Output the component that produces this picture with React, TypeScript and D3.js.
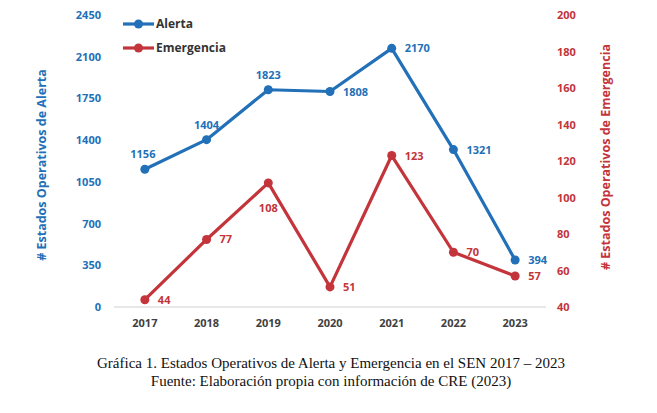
import React, { useRef, useEffect } from 'react';
import * as d3 from 'd3';

const years = ['2017', '2018', '2019', '2020', '2021', '2022', '2023'];
const alerta = [1156, 1404, 1823, 1808, 2170, 1321, 394];
const emergencia = [44, 77, 108, 51, 123, 70, 57];
const leftTicks = [0, 350, 700, 1050, 1400, 1750, 2100, 2450];
const rightTicks = [40, 60, 80, 100, 120, 140, 160, 180, 200];

// where each data label sits relative to its point
const alertaLabelPos = ['above', 'above', 'above', 'right', 'right', 'right', 'right'];
const emergLabelPos = ['right', 'right', 'below', 'right', 'right', 'right', 'right'];

const BLUE = '#2270b8';
const RED = '#c3343b';
const FONT = '"Open Sans", "DejaVu Sans", sans-serif';

export default function App() {
  const svgRef = useRef<SVGSVGElement>(null);

  useEffect(() => {
    if (!svgRef.current) return;
    const W = 657, H = 413;
    const svg = d3.select(svgRef.current);
    svg.selectAll('*').remove();
    svg.attr('width', W).attr('height', H);

    svg.append('rect').attr('width', W).attr('height', H).attr('fill', '#fff');

    const x = d3.scaleBand().domain(years).range([114, 546]);
    const cx = (d: string) => (x(d) || 0) + x.bandwidth() / 2;
    const yL = d3.scaleLinear().domain([0, 2450]).range([307, 15]);
    const yR = d3.scaleLinear().domain([40, 200]).range([307, 15]);

    // baseline
    svg.append('line')
      .attr('x1', 114).attr('x2', 546)
      .attr('y1', yL(0)).attr('y2', yL(0))
      .attr('stroke', '#d0d0d0').attr('stroke-width', 1.2);

    // left axis
    const left = svg.append('g')
      .attr('transform', 'translate(101,0)')
      .call(d3.axisLeft(yL).tickValues(leftTicks).tickFormat(d3.format('d')).tickSize(0).tickPadding(0));
    left.select('.domain').remove();
    left.selectAll('text')
      .attr('fill', BLUE).style('font-size', '11px').style('font-weight', '700')
      .style('font-family', FONT);

    // right axis
    const right = svg.append('g')
      .attr('transform', 'translate(557,0)')
      .call(d3.axisRight(yR).tickValues(rightTicks).tickFormat(d3.format('d')).tickSize(0).tickPadding(0));
    right.select('.domain').remove();
    right.selectAll('text')
      .attr('fill', RED).style('font-size', '11px').style('font-weight', '700')
      .style('font-family', FONT);

    // x axis labels
    const bottom = svg.append('g')
      .attr('transform', `translate(0,${yL(0)})`)
      .call(d3.axisBottom(x).tickSize(0).tickPadding(12));
    bottom.select('.domain').remove();
    bottom.selectAll('text')
      .attr('fill', '#404040').style('font-size', '11px').style('font-weight', '700')
      .style('font-family', FONT);

    // axis titles
    svg.append('text')
      .attr('transform', `translate(46,${165}) rotate(-90)`)
      .attr('text-anchor', 'middle')
      .attr('fill', BLUE).style('font-size', '12.5px').style('font-weight', '700')
      .style('font-family', FONT)
      .text('# Estados Operativos de Alerta');
    svg.append('text')
      .attr('transform', `translate(610,${157}) rotate(-90)`)
      .attr('text-anchor', 'middle')
      .attr('fill', RED).style('font-size', '12.5px').style('font-weight', '700')
      .style('font-family', FONT)
      .text('# Estados Operativos de Emergencia');

    const drawSeries = (vals: number[], y: d3.ScaleLinear<number, number>, color: string, pos: string[]) => {
      const line = d3.line<number>().x((_, i) => cx(years[i])).y(d => y(d));
      svg.append('path').datum(vals)
        .attr('d', line).attr('fill', 'none')
        .attr('stroke', color).attr('stroke-width', 3.2).attr('stroke-linejoin', 'round');
      svg.append('g').selectAll('circle').data(vals).enter().append('circle')
        .attr('cx', (_, i) => cx(years[i])).attr('cy', d => y(d))
        .attr('r', 4.5).attr('fill', color);
      svg.append('g').selectAll('text').data(vals).enter().append('text')
        .attr('x', (_, i) => pos[i] === 'right' ? cx(years[i]) + 13 : cx(years[i]) - (i === 0 ? 2 : 0))
        .attr('y', (d, i) => pos[i] === 'right' ? y(d) + 4 : pos[i] === 'above' ? y(d) - 11 : y(d) + 29)
        .attr('text-anchor', (_, i) => pos[i] === 'right' ? 'start' : 'middle')
        .attr('fill', color).style('font-size', '11px').style('font-weight', '700')
        .style('font-family', FONT)
        .text(d => String(d));
    };

    drawSeries(emergencia, yR, RED, emergLabelPos);
    drawSeries(alerta, yL, BLUE, alertaLabelPos);

    // legend
    const legend = [
      { name: 'Alerta', color: BLUE, y: 24 },
      { name: 'Emergencia', color: RED, y: 48 },
    ];
    legend.forEach(l => {
      svg.append('line').attr('x1', 123).attr('x2', 154).attr('y1', l.y).attr('y2', l.y)
        .attr('stroke', l.color).attr('stroke-width', 3.2);
      svg.append('circle').attr('cx', 138.5).attr('cy', l.y).attr('r', 4.5).attr('fill', l.color);
      svg.append('text').attr('x', 156).attr('y', l.y + 4)
        .attr('fill', '#333').style('font-size', '12px').style('font-weight', '700')
        .style('font-family', FONT).text(l.name);
    });

    // caption
    const cap = [
      { t: 'Gráfica 1. Estados Operativos de Alerta y Emergencia en el SEN 2017 – 2023', y: 368 },
      { t: 'Fuente: Elaboración propia con información de CRE (2023)', y: 386 },
    ];
    cap.forEach(c => {
      svg.append('text').attr('x', 331).attr('y', c.y).attr('text-anchor', 'middle')
        .attr('fill', '#111').style('font-size', '15px')
        .style('font-family', '"Liberation Serif", "Times New Roman", serif').text(c.t);
    });
  }, []);

  return (
    <div style={{ position: 'absolute', left: 0, top: 0 }}>
      <svg ref={svgRef} style={{ display: 'block' }}></svg>
    </div>
  );
}
